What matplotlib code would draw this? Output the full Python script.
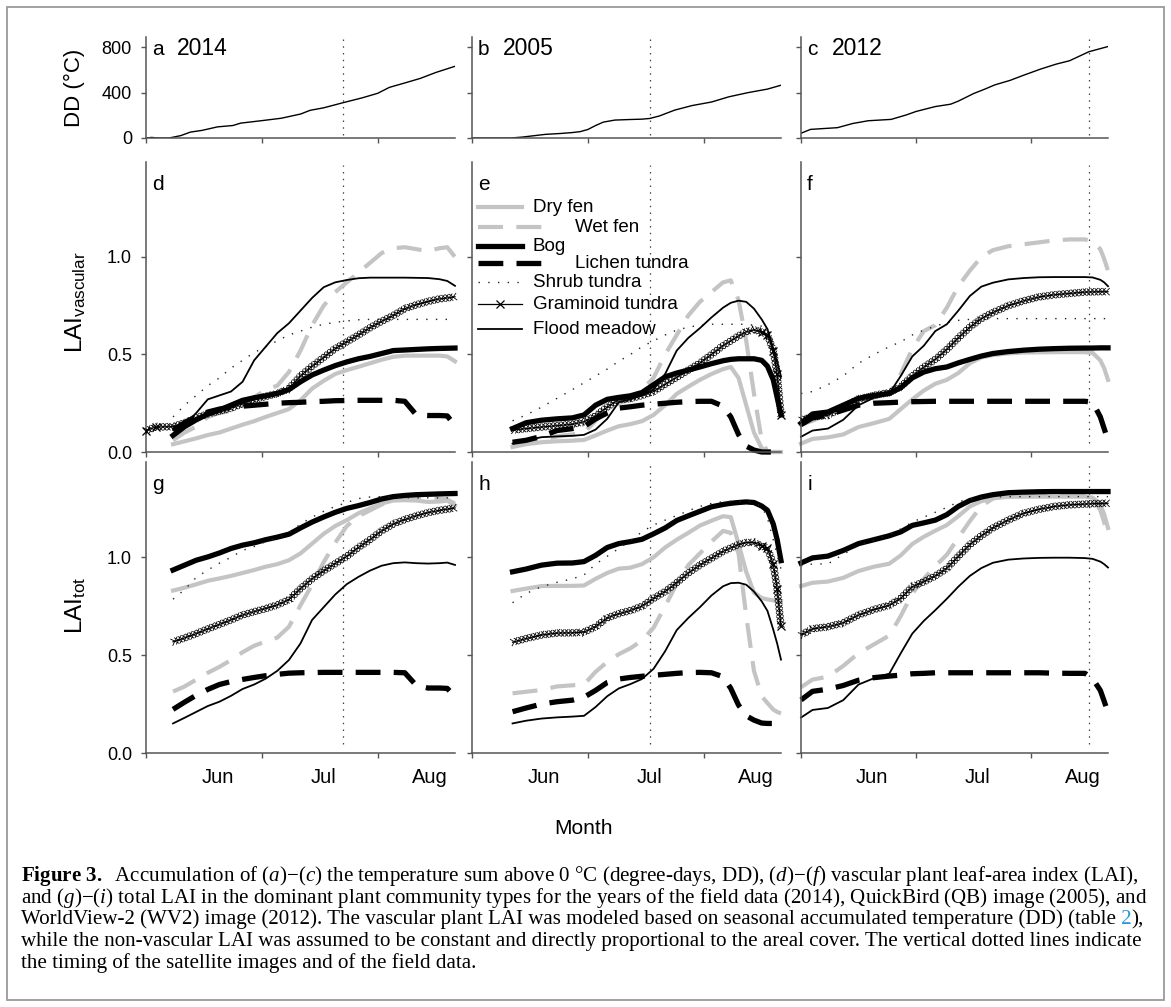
import numpy as np
import matplotlib
matplotlib.use('Agg')
import matplotlib.pyplot as plt
import matplotlib.patheffects as pe
import matplotlib.ticker as mticker
from matplotlib.patches import Rectangle

nan = np.nan

# ---------------- data ----------------
# degree-day sums (panels a-c), x = day of year
dd_days_2014 = [150, 151.5, 153, 156, 159, 161.5, 164.5, 168.5, 172.5, 174.5, 180, 185, 190,
                192.5, 196, 201, 206, 210, 213, 217, 221, 225, 230]
dd_2014 = [0, 5, 0, 0, 21, 52, 67, 98, 110, 131, 153, 174, 211, 244, 266, 311, 354, 394,
           446, 485, 525, 577, 632]
dd_days_2005 = [150, 160, 163, 166, 169, 173, 176, 178, 180, 182, 184, 187, 191, 194, 196,
                198.5, 202.5, 207, 212, 216.5, 221.5, 226.5, 230]
dd_2005 = [0, 0, 8, 20, 32, 40, 48, 56, 75, 110, 140, 158, 163, 166, 172, 194, 246, 286,
           317, 363, 400, 431, 465]
dd_days_2012 = [150, 152.5, 159.5, 163.5, 167.5, 173.5, 177.5, 180, 185, 189, 191, 195, 198,
                200.5, 204.5, 208, 212.5, 216.5, 220, 225, 230]
dd_2012 = [42, 76, 91, 128, 152, 164, 204, 234, 277, 298, 325, 392, 432, 468, 508, 553, 608,
           651, 681, 760, 806]

# timing of field data / satellite images (day of year)
vline_2014 = 201
vline_2005 = 196
vline_2012 = 225

species = ['Dry fen', 'Wet fen', 'Bog', 'Lichen tundra', 'Shrub tundra',
           'Graminoid tundra', 'Flood meadow']

# ---- 2014 (panels d, g) ----
days_2014 = [150, 152.5, 157, 160, 163, 166, 169, 172, 175, 178, 181, 184, 187, 190, 193,
             196, 199, 202, 205, 208, 211, 214, 217, 220, 223, 226, 228, 230]
vasc_2014_dry = [nan, nan, 0.04, 0.055, 0.07, 0.087, 0.10, 0.12, 0.14, 0.158, 0.18, 0.20, 0.22,
                 0.265, 0.325, 0.365, 0.40, 0.42, 0.437, 0.455, 0.473, 0.488, 0.494, 0.494,
                 0.494, 0.494, 0.49, 0.465]
vasc_2014_wet = [nan, nan, 0.06, 0.10, 0.13, 0.18, 0.20, 0.21, 0.24, 0.28, 0.32, 0.34, 0.41,
                 0.52, 0.65, 0.75, 0.82, 0.87, 0.92, 0.97, 1.02, 1.045, 1.05, 1.04, 1.03,
                 1.045, 1.05, 1.0]
vasc_2014_bog = [nan, nan, 0.085, 0.13, 0.165, 0.195, 0.215, 0.24, 0.265, 0.278, 0.288, 0.30,
                 0.32, 0.36, 0.395, 0.42, 0.443, 0.462, 0.478, 0.49, 0.505, 0.52, 0.523, 0.526,
                 0.529, 0.531, 0.532, 0.533]
vasc_2014_lichen = [nan, nan, 0.11, 0.15, 0.18, 0.205, 0.22, 0.23, 0.235, 0.24, 0.245, 0.25,
                    0.253, 0.255, 0.258, 0.26, 0.263, 0.264, 0.265, 0.265, 0.265, 0.265, 0.26,
                    0.19, 0.187, 0.187, 0.185, 0.135]
vasc_2014_shrub = [nan, nan, 0.18, 0.24, 0.29, 0.34, 0.38, 0.43, 0.47, 0.51, 0.54, 0.57, 0.60,
                   0.62, 0.64, 0.655, 0.665, 0.672, 0.678, 0.68, 0.68, 0.68, 0.68, 0.68, 0.68,
                   0.68, 0.68, 0.68]
vasc_2014_gram = [0.11, 0.128, 0.13, 0.15, 0.175, 0.196, 0.21, 0.225, 0.248, 0.27, 0.285, 0.30,
                  0.325, 0.39, 0.44, 0.485, 0.53, 0.565, 0.60, 0.637, 0.67, 0.70, 0.735, 0.755,
                  0.772, 0.785, 0.79, 0.796]
vasc_2014_flood = [nan, nan, 0.094, 0.14, 0.20, 0.27, 0.29, 0.31, 0.36, 0.47, 0.54, 0.61, 0.66,
                   0.725, 0.79, 0.845, 0.87, 0.882, 0.891, 0.894, 0.894, 0.894, 0.894, 0.893,
                   0.892, 0.886, 0.877, 0.852]

tot_2014_dry = [nan, nan, 0.83, 0.845, 0.862, 0.88, 0.892, 0.905, 0.92, 0.935, 0.952, 0.965,
                0.985, 1.02, 1.07, 1.12, 1.16, 1.19, 1.225, 1.25, 1.275, 1.29, 1.292, 1.29,
                1.283, 1.285, 1.29, 1.265]
tot_2014_wet = [nan, nan, 0.314, 0.34, 0.375, 0.41, 0.44, 0.475, 0.515, 0.548, 0.57, 0.59,
                0.645, 0.755, 0.86, 0.975, 1.075, 1.16, 1.21, 1.24, 1.27, 1.293, 1.30, 1.30,
                1.30, 1.30, 1.295, 1.274]
tot_2014_bog = [nan, nan, 0.935, 0.96, 0.985, 1.002, 1.022, 1.045, 1.062, 1.074, 1.09, 1.103,
                1.118, 1.15, 1.18, 1.206, 1.23, 1.25, 1.264, 1.28, 1.298, 1.31, 1.316, 1.32,
                1.322, 1.324, 1.325, 1.326]
tot_2014_lichen = [nan, nan, 0.223, 0.26, 0.295, 0.325, 0.35, 0.365, 0.376, 0.386, 0.395, 0.402,
                   0.408, 0.41, 0.411, 0.412, 0.412, 0.412, 0.412, 0.412, 0.412, 0.412, 0.41,
                   0.345, 0.332, 0.332, 0.33, 0.288]
tot_2014_shrub = [nan, nan, 0.786, 0.835, 0.897, 0.935, 0.97, 1.0, 1.035, 1.055, 1.08, 1.1,
                  1.125, 1.17, 1.205, 1.235, 1.26, 1.28, 1.30, 1.308, 1.31, 1.305, 1.304, 1.304,
                  1.304, 1.304, 1.304, 1.304]
tot_2014_gram = [nan, nan, 0.568, 0.588, 0.61, 0.634, 0.657, 0.68, 0.705, 0.722, 0.738, 0.757,
                 0.783, 0.84, 0.89, 0.931, 0.968, 1.005, 1.05, 1.09, 1.135, 1.17, 1.193, 1.212,
                 1.228, 1.24, 1.246, 1.252]
tot_2014_flood = [nan, nan, 0.151, 0.18, 0.21, 0.24, 0.262, 0.292, 0.327, 0.35, 0.38, 0.42,
                  0.475, 0.56, 0.68, 0.745, 0.81, 0.863, 0.9, 0.932, 0.957, 0.97, 0.974, 0.97,
                  0.968, 0.97, 0.973, 0.961]

# ---- 2005 (panels e, h) ----
days_2005 = [160.5, 164, 168, 172, 176, 179, 182, 185, 188, 191, 194, 197, 200, 203, 206, 209,
             212, 215, 217, 219, 221, 223, 225, 226.5, 228, 229, 230]
vasc_2005_dry = [0.026, 0.04, 0.05, 0.055, 0.058, 0.062, 0.085, 0.11, 0.132, 0.143, 0.158, 0.19,
                 0.24, 0.298, 0.335, 0.37, 0.40, 0.425, 0.436, 0.38, 0.24, 0.10, 0.02, 0.0, 0.0,
                 0.0, 0.0]
vasc_2005_wet = [0.05, 0.055, 0.06, 0.08, 0.09, 0.10, 0.16, 0.21, 0.25, 0.27, 0.32, 0.38, 0.50,
                 0.60, 0.70, 0.77, 0.82, 0.87, 0.88, 0.78, 0.57, 0.30, 0.06, 0.0, 0.0, 0.0, 0.0]
vasc_2005_bog = [0.12, 0.15, 0.163, 0.17, 0.175, 0.19, 0.24, 0.27, 0.28, 0.288, 0.305, 0.345,
                 0.385, 0.405, 0.42, 0.436, 0.453, 0.468, 0.475, 0.478, 0.478, 0.478, 0.47,
                 0.44, 0.37, 0.28, 0.19]
vasc_2005_lichen = [0.05, 0.06, 0.08, 0.11, 0.12, 0.13, 0.17, 0.20, 0.225, 0.232, 0.24, 0.245,
                    0.25, 0.255, 0.258, 0.26, 0.26, 0.235, 0.18, 0.09, 0.03, 0.01, 0.0, 0.0,
                    0.0, 0.0, 0.0]
vasc_2005_shrub = [0.16, 0.19, 0.23, 0.275, 0.32, 0.355, 0.39, 0.425, 0.465, 0.50, 0.54, 0.57,
                   0.60, 0.625, 0.64, 0.65, 0.655, 0.655, 0.655, 0.655, 0.655, 0.65, 0.645,
                   0.62, 0.52, 0.44, 0.35]
vasc_2005_gram = [0.112, 0.12, 0.128, 0.135, 0.142, 0.155, 0.185, 0.23, 0.268, 0.274, 0.29,
                  0.31, 0.347, 0.383, 0.42, 0.456, 0.50, 0.545, 0.57, 0.595, 0.617, 0.627,
                  0.615, 0.60, 0.52, 0.40, 0.19]
vasc_2005_flood = [0.043, 0.06, 0.076, 0.08, 0.083, 0.088, 0.115, 0.17, 0.255, 0.27, 0.29,
                   0.32, 0.40, 0.52, 0.585, 0.635, 0.69, 0.74, 0.765, 0.776, 0.77, 0.735, 0.68,
                   0.63, 0.53, 0.46, 0.388]

tot_2005_dry = [0.828, 0.84, 0.853, 0.854, 0.854, 0.856, 0.89, 0.92, 0.942, 0.947, 0.965, 1.0,
                1.05, 1.09, 1.125, 1.162, 1.187, 1.21, 1.205, 1.07, 0.925, 0.82, 0.792, 0.785,
                0.78, 0.778, 0.777]
tot_2005_wet = [0.305, 0.313, 0.322, 0.34, 0.346, 0.35, 0.415, 0.465, 0.505, 0.535, 0.575, 0.64,
                0.75, 0.865, 0.96, 1.02, 1.08, 1.135, 1.125, 1.02, 0.70, 0.42, 0.29, 0.255,
                0.222, 0.21, 0.202]
tot_2005_bog = [0.926, 0.94, 0.96, 0.97, 0.971, 0.978, 1.01, 1.05, 1.07, 1.08, 1.092, 1.12,
                1.15, 1.188, 1.212, 1.235, 1.258, 1.27, 1.276, 1.28, 1.283, 1.28, 1.262, 1.24,
                1.17, 1.09, 0.983]
tot_2005_lichen = [0.211, 0.23, 0.25, 0.262, 0.27, 0.285, 0.32, 0.36, 0.378, 0.386, 0.392,
                   0.397, 0.402, 0.407, 0.411, 0.412, 0.41, 0.39, 0.33, 0.245, 0.19, 0.168,
                   0.153, 0.151, 0.151, 0.151, 0.151]
tot_2005_shrub = [0.768, 0.815, 0.85, 0.872, 0.89, 0.91, 0.965, 1.005, 1.045, 1.085, 1.13,
                  1.165, 1.19, 1.213, 1.238, 1.26, 1.275, 1.284, 1.286, 1.286, 1.286, 1.28,
                  1.26, 1.2, 1.09, 1.01, 0.94]
tot_2005_gram = [0.566, 0.585, 0.603, 0.613, 0.614, 0.618, 0.645, 0.69, 0.712, 0.728, 0.75,
                 0.79, 0.825, 0.87, 0.92, 0.96, 0.995, 1.03, 1.048, 1.065, 1.075, 1.077, 1.057,
                 1.046, 0.966, 0.84, 0.648]
tot_2005_flood = [0.151, 0.165, 0.176, 0.182, 0.186, 0.19, 0.235, 0.29, 0.33, 0.352, 0.378,
                  0.43, 0.52, 0.628, 0.69, 0.745, 0.805, 0.852, 0.868, 0.87, 0.86, 0.825, 0.775,
                  0.726, 0.63, 0.56, 0.477]

# ---- 2012 (panels f, i) ----
days_2012 = [150, 153, 157, 161, 165, 169, 173, 176, 179, 182, 185, 188, 191, 194, 197, 200,
             204, 208, 212, 216, 220, 224, 226, 228, 229, 230]
vasc_2012_dry = [0.043, 0.067, 0.075, 0.09, 0.128, 0.148, 0.17, 0.22, 0.27, 0.315, 0.35, 0.37,
                 0.405, 0.455, 0.485, 0.497, 0.506, 0.51, 0.511, 0.512, 0.512, 0.512, 0.508,
                 0.47, 0.43, 0.37]
vasc_2012_wet = [0.14, 0.16, 0.195, 0.23, 0.26, 0.28, 0.30, 0.40, 0.53, 0.62, 0.65, 0.74, 0.85,
                 0.93, 1.0, 1.035, 1.055, 1.065, 1.075, 1.085, 1.09, 1.09, 1.08, 1.04, 0.99, 0.93]
vasc_2012_bog = [0.147, 0.195, 0.205, 0.24, 0.275, 0.29, 0.30, 0.33, 0.38, 0.41, 0.427, 0.436,
                 0.457, 0.475, 0.492, 0.505, 0.515, 0.522, 0.527, 0.53, 0.532, 0.533, 0.533,
                 0.534, 0.534, 0.534]
vasc_2012_lichen = [0.14, 0.175, 0.19, 0.215, 0.24, 0.25, 0.253, 0.256, 0.258, 0.259, 0.26,
                    0.26, 0.26, 0.26, 0.26, 0.26, 0.26, 0.26, 0.26, 0.26, 0.26, 0.26, 0.255,
                    0.18, 0.12, 0.06]
vasc_2012_shrub = [0.30, 0.31, 0.345, 0.39, 0.455, 0.50, 0.54, 0.565, 0.60, 0.625, 0.645, 0.664,
                   0.675, 0.68, 0.683, 0.684, 0.684, 0.684, 0.684, 0.684, 0.684, 0.684, 0.684,
                   0.684, 0.684, 0.684]
vasc_2012_gram = [0.164, 0.18, 0.188, 0.23, 0.272, 0.29, 0.305, 0.335, 0.39, 0.435, 0.475,
                  0.526, 0.585, 0.64, 0.684, 0.715, 0.75, 0.775, 0.795, 0.806, 0.813, 0.82,
                  0.821, 0.822, 0.822, 0.822]
vasc_2012_flood = [0.078, 0.11, 0.12, 0.165, 0.24, 0.278, 0.30, 0.39, 0.49, 0.545, 0.62, 0.655,
                   0.725, 0.80, 0.848, 0.868, 0.885, 0.892, 0.896, 0.897, 0.897, 0.897, 0.895,
                   0.883, 0.87, 0.85]

tot_2012_dry = [0.853, 0.87, 0.876, 0.895, 0.93, 0.952, 0.967, 1.01, 1.068, 1.105, 1.136, 1.165,
                1.21, 1.26, 1.287, 1.302, 1.309, 1.31, 1.31, 1.31, 1.31, 1.31, 1.305, 1.27,
                1.22, 1.15]
tot_2012_wet = [0.336, 0.375, 0.39, 0.445, 0.51, 0.555, 0.60, 0.70, 0.815, 0.89, 0.955, 1.013,
                1.10, 1.185, 1.262, 1.30, 1.317, 1.32, 1.32, 1.321, 1.322, 1.322, 1.31, 1.24,
                1.18, 1.10]
tot_2012_bog = [0.971, 0.997, 1.006, 1.035, 1.07, 1.09, 1.11, 1.13, 1.163, 1.176, 1.19, 1.218,
                1.26, 1.29, 1.308, 1.32, 1.33, 1.333, 1.335, 1.336, 1.336, 1.336, 1.336, 1.336,
                1.336, 1.336]
tot_2012_lichen = [0.271, 0.315, 0.326, 0.345, 0.372, 0.385, 0.393, 0.398, 0.405, 0.407, 0.41,
                   0.41, 0.41, 0.41, 0.41, 0.41, 0.41, 0.41, 0.41, 0.408, 0.407, 0.407, 0.38,
                   0.32, 0.265, 0.207]
tot_2012_shrub = [0.957, 0.966, 0.966, 1.015, 1.06, 1.088, 1.115, 1.145, 1.18, 1.205, 1.23,
                  1.255, 1.283, 1.298, 1.305, 1.308, 1.31, 1.31, 1.31, 1.31, 1.31, 1.31, 1.31,
                  1.31, 1.31, 1.31]
tot_2012_gram = [0.603, 0.635, 0.645, 0.665, 0.705, 0.733, 0.755, 0.79, 0.85, 0.875, 0.905,
                 0.943, 1.005, 1.065, 1.11, 1.15, 1.19, 1.225, 1.245, 1.26, 1.268, 1.272, 1.274,
                 1.275, 1.276, 1.276]
tot_2012_flood = [0.181, 0.22, 0.23, 0.27, 0.35, 0.382, 0.405, 0.51, 0.61, 0.675, 0.73, 0.788,
                  0.85, 0.905, 0.945, 0.972, 0.988, 0.994, 0.997, 0.998, 0.998, 0.996, 0.992,
                  0.978, 0.965, 0.948]

month_ticks = [150, 180, 210]
month_label_pos = [168.5, 196, 223.5]
month_labels = ['Jun', 'Jul', 'Aug']

# ---------------- styling ----------------
plt.rcParams['font.family'] = ['Liberation Sans', 'DejaVu Sans']
plt.rcParams['mathtext.fontset'] = 'custom'
plt.rcParams['mathtext.rm'] = 'Liberation Serif'
plt.rcParams['mathtext.it'] = 'Liberation Serif:italic'
plt.rcParams['mathtext.bf'] = 'Liberation Serif:bold'
plt.rcParams['mathtext.sf'] = 'Liberation Sans'

GRAY = '#c4c4c4'
SPINE = '#555555'

gram_fx = [pe.TickedStroke(angle=a, spacing=2.8, length=1.2, linewidth=0.6, foreground='black')
           for a in (45, 135, -45, -135)] + [pe.Normal()]

styles = {
    'Dry fen': dict(color=GRAY, lw=3.0, ls='-'),
    'Wet fen': dict(color=GRAY, lw=3.0, ls=(0, (6.0, 3.2))),
    'Bog': dict(color='black', lw=3.8, ls='-'),
    'Lichen tundra': dict(color='black', lw=3.8, ls=(0, (4.7, 2.5))),
    'Shrub tundra': dict(color='#222222', lw=1.0, ls=(0, (1, 6.0))),
    'Graminoid tundra': dict(color='black', lw=0.9, ls='-'),
    'Flood meadow': dict(color='black', lw=1.3, ls='-'),
}

W, H = 1171, 1007
fig = plt.figure(figsize=(W / 100, H / 100), dpi=100)

col_px = [(146, 455), (472, 781), (801, 1108)]
row_px = [(37, 138), (162, 452), (462, 753)]


def axes_at(col, row):
    x0, x1 = col_px[col]
    y0, y1 = row_px[row]
    return fig.add_axes([x0 / W, 1 - y1 / H, (x1 - x0) / W, (y1 - y0) / H])


def style_axes(ax, bottom):
    for s in ('top', 'right'):
        ax.spines[s].set_visible(False)
    for s in ('left', 'bottom'):
        ax.spines[s].set_color(SPINE)
        ax.spines[s].set_linewidth(1.1)
    ax.patch.set_alpha(0)
    ax.set_xlim(150, 230)
    ax.set_xticks(month_ticks)
    ax.xaxis.set_major_formatter(mticker.NullFormatter())
    if bottom:
        ax.set_xticks(month_label_pos, labels=month_labels, minor=True)
    else:
        ax.set_xticks(month_label_pos, minor=True)
    ax.tick_params(which='major', direction='out', length=3.6, width=1.0, color=SPINE,
                   labelsize=13, pad=6.5)
    ax.tick_params(axis='x', which='minor', length=0, pad=11, labelsize=14.5)


years = ['2014', '2005', '2012']
dd_days = [dd_days_2014, dd_days_2005, dd_days_2012]
dd_vals = [dd_2014, dd_2005, dd_2012]
vlines = [vline_2014, vline_2005, vline_2012]
lai_days = [days_2014, days_2005, days_2012]
vasc = [
    [vasc_2014_dry, vasc_2014_wet, vasc_2014_bog, vasc_2014_lichen, vasc_2014_shrub,
     vasc_2014_gram, vasc_2014_flood],
    [vasc_2005_dry, vasc_2005_wet, vasc_2005_bog, vasc_2005_lichen, vasc_2005_shrub,
     vasc_2005_gram, vasc_2005_flood],
    [vasc_2012_dry, vasc_2012_wet, vasc_2012_bog, vasc_2012_lichen, vasc_2012_shrub,
     vasc_2012_gram, vasc_2012_flood],
]
tot = [
    [tot_2014_dry, tot_2014_wet, tot_2014_bog, tot_2014_lichen, tot_2014_shrub,
     tot_2014_gram, tot_2014_flood],
    [tot_2005_dry, tot_2005_wet, tot_2005_bog, tot_2005_lichen, tot_2005_shrub,
     tot_2005_gram, tot_2005_flood],
    [tot_2012_dry, tot_2012_wet, tot_2012_bog, tot_2012_lichen, tot_2012_shrub,
     tot_2012_gram, tot_2012_flood],
]
letters = [['a', 'b', 'c'], ['d', 'e', 'f'], ['g', 'h', 'i']]
vline_kw = dict(color='#444444', lw=0.9, ls=(0, (1.2, 4.2)), ymin=0.03, ymax=0.99)

# which graminoid points carry a visible marker (start in 2014, steep end in 2005)
gram_marks = {(1, 0): [0, 1], (1, 1): list(range(22, 27)), (2, 1): list(range(22, 27))}

for c in range(3):
    # degree days
    ax = axes_at(c, 0)
    style_axes(ax, False)
    ax.plot(dd_days[c], dd_vals[c], color='black', lw=1.0)
    ax.set_ylim(0, 890)
    ax.set_yticks([0, 400, 800])
    if c == 0:
        ax.set_yticklabels(['0', '400', '800'])
    else:
        ax.yaxis.set_major_formatter(mticker.NullFormatter())
    ax.axvline(vlines[c], **vline_kw)
    ax.text(0.02, 0.82, letters[0][c], transform=ax.transAxes, fontsize=15, va='baseline')
    ax.text(0.10, 0.82, years[c], transform=ax.transAxes, fontsize=16.5, va='baseline')

    for r, block in ((1, vasc), (2, tot)):
        ax = axes_at(c, r)
        style_axes(ax, r == 2)
        ax.set_ylim(0, 1.487)
        ax.set_yticks([0, 0.5, 1.0])
        if c == 0:
            ax.set_yticklabels(['0.0', '0.5', '1.0'])
        else:
            ax.yaxis.set_major_formatter(mticker.NullFormatter())
        ax.axvline(vlines[c], **vline_kw)
        x = np.array(lai_days[c], dtype=float)
        for name, vals in zip(species, block[c]):
            st = styles[name]
            y = np.array(vals, dtype=float)
            ok = ~np.isnan(y)
            if name == 'Graminoid tundra':
                ax.plot(x[ok], y[ok], color='black', lw=st['lw'], path_effects=gram_fx,
                        clip_on=False, zorder=3)
                idx = gram_marks.get((r, c))
                if idx:
                    ax.plot(x[idx], y[idx], ls='none', marker='x', ms=6, mew=0.9,
                            color='black', clip_on=False, zorder=3)
            else:
                ax.plot(x[ok], y[ok], color=st['color'], lw=st['lw'], ls=st['ls'],
                        clip_on=False, zorder=2)
        ax.text(0.02, 0.905, letters[r][c], transform=ax.transAxes, fontsize=15,
                va='baseline')

        if r == 1 and c == 1:
            # legend drawn in panel e (label offsets as in the original)
            leg_rows = [207, 227, 246, 263, 282, 304, 329]
            y0, y1 = row_px[1]
            x0 = col_px[1][0]
            pw = col_px[1][1] - col_px[1][0]
            for name, ry in zip(species, leg_rows):
                st = styles[name]
                fy = (y1 - ry) / (y1 - y0)
                dashed = name in ('Wet fen', 'Lichen tundra')
                hx1 = (542 if dashed else 522)
                tx = (575 if dashed else 533)
                hx = [(478 - x0) / pw, (hx1 - x0) / pw]
                if name == 'Graminoid tundra':
                    ax.plot(hx, [fy, fy], color='black', lw=0.9, transform=ax.transAxes,
                            clip_on=False)
                    ax.plot([np.mean(hx)], [fy], marker='x', ms=6, mew=0.9, color='black',
                            transform=ax.transAxes, clip_on=False)
                else:
                    ax.plot(hx, [fy, fy], color=st['color'], lw=st['lw'], ls=st['ls'],
                            transform=ax.transAxes, clip_on=False)
                ax.text((tx - x0) / pw, fy, name, transform=ax.transAxes, fontsize=13.5,
                        va='center', ha='left')

# row labels
fig.text(74 / W, 1 - 88 / H, 'DD (°C)', rotation=90, ha='center', va='center', fontsize=16)
fig.text(76 / W, 1 - 302 / H, r'LAI$_{\mathsf{vascular}}$', rotation=90, ha='center',
         va='center', fontsize=17.5)
fig.text(76 / W, 1 - 605 / H, r'LAI$_{\mathsf{tot}}$', rotation=90, ha='center',
         va='center', fontsize=17.5)
fig.text(583 / W, 1 - 829 / H, 'Month', ha='center', va='center', fontsize=15)

# caption
cap = fig.add_axes([0, 0, 1, 1], zorder=-1)
cap.set_axis_off()
cap.set_xlim(0, 1)
cap.set_ylim(0, 1)
cap_kw = dict(fontsize=15.1, family=['Liberation Serif', 'DejaVu Serif'])
cap_x = 21 / W
cap_base = [881, 903, 924, 946, 968]
cap_lines = [
    r'$\mathbf{Figure\ 3.}$  Accumulation of ($a$)−($c$) the temperature sum above 0 °C '
    r'(degree-days, DD), ($d$)−($f$) vascular plant leaf-area index (LAI),',
    r'and ($g$)−($i$) total LAI in the dominant plant community types for the years of the '
    r'field data (2014), QuickBird (QB) image (2005), and',
    None,
    'while the non-vascular LAI was assumed to be constant and directly proportional to the '
    'areal cover. The vertical dotted lines indicate',
    'the timing of the satellite images and of the field data.',
]
for yb, line in zip(cap_base, cap_lines):
    if line is not None:
        cap.text(cap_x, 1 - yb / H, line, va='baseline', ha='left', **cap_kw)
t_a = cap.text(cap_x, 1 - cap_base[2] / H,
               'WorldView-2 (WV2) image (2012). The vascular plant LAI was modeled based on '
               'seasonal accumulated temperature (DD) (table', va='baseline', ha='left', **cap_kw)
t_b = cap.annotate(' 2', xy=(1, 0), xycoords=t_a, va='bottom', ha='left', color='#2b9ad6',
                   **cap_kw)
cap.annotate('),', xy=(1, 0), xycoords=t_b, va='bottom', ha='left', **cap_kw)

fig.patches.append(Rectangle((7 / W, 1 - 1000 / H), (1164 - 7) / W, (1000 - 7) / H,
                             transform=fig.transFigure, figure=fig, fill=False,
                             ec='#9a9a9a', lw=1.3))

fig.savefig('out.png', dpi=100)
